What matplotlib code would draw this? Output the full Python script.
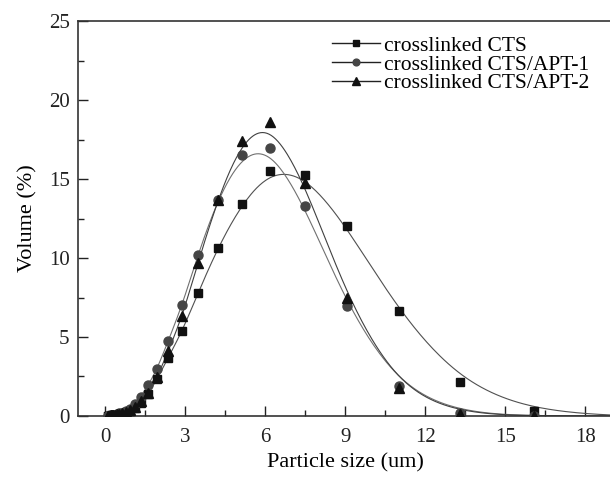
import numpy as np
import matplotlib
matplotlib.use("Agg")
import matplotlib.pyplot as plt
from matplotlib.lines import Line2D

plt.rcParams['font.family'] = ['Liberation Serif', 'DejaVu Serif']

# particle size bins (um)
size = [0.10, 0.12, 0.15, 0.18, 0.22, 0.26, 0.31, 0.37, 0.45, 0.54, 0.65,
        0.78, 0.93, 1.12, 1.34, 1.62, 1.96, 2.37, 2.90, 3.48, 4.22, 5.12,
        6.19, 7.50, 9.06, 11.0, 13.31, 16.09, 19.5]

# volume (%)
cts = [0.0, 0.01, 0.02, 0.03, 0.04, 0.05, 0.06, 0.07, 0.09, 0.12, 0.16,
       0.23, 0.34, 0.52, 0.85, 1.42, 2.35, 3.70, 5.39, 7.76, 10.62, 13.42,
       15.50, 15.27, 12.00, 6.62, 2.15, 0.30, 0.02]
apt1 = [0.0, 0.01, 0.02, 0.03, 0.04, 0.05, 0.07, 0.09, 0.12, 0.16, 0.22,
        0.31, 0.45, 0.74, 1.23, 1.95, 3.00, 4.76, 7.04, 10.20, 13.70, 16.50,
        16.95, 13.26, 6.98, 1.90, 0.20, 0.0, 0.0]
apt2 = [0.0, 0.01, 0.02, 0.03, 0.04, 0.05, 0.06, 0.08, 0.10, 0.13, 0.18,
        0.25, 0.36, 0.57, 0.95, 1.48, 2.47, 4.10, 6.33, 9.67, 13.70, 17.40,
        18.60, 14.74, 7.47, 1.78, 0.15, 0.0, 0.0]

labels = ['crosslinked CTS', 'crosslinked CTS/APT-1', 'crosslinked CTS/APT-2']


def bspline(xs, ys, n=30):
    # uniform cubic B-spline using the points as control points (clamped ends)
    px = np.r_[[xs[0]] * 2, xs, [xs[-1]] * 2]
    py = np.r_[[ys[0]] * 2, ys, [ys[-1]] * 2]
    t = np.linspace(0, 1, n)
    b0 = (1 - t) ** 3 / 6
    b1 = (3 * t ** 3 - 6 * t ** 2 + 4) / 6
    b2 = (-3 * t ** 3 + 3 * t ** 2 + 3 * t + 1) / 6
    b3 = t ** 3 / 6
    cx, cy = [], []
    for i in range(len(px) - 3):
        cx.append(b0 * px[i] + b1 * px[i + 1] + b2 * px[i + 2] + b3 * px[i + 3])
        cy.append(b0 * py[i] + b1 * py[i + 1] + b2 * py[i + 2] + b3 * py[i + 3])
    return np.concatenate(cx), np.concatenate(cy)


fig = plt.figure(figsize=(6.10, 4.84), dpi=100)
ax = fig.add_axes([0.1279, 0.1405, 0.8755, 0.8161])

styles = [('s', '#111111', 6.0), ('o', '#454545', 6.5), ('^', '#111111', 7.0)]
curve_cols = ['#505050', '#707070', '#404040']
for ys, (mk, col, ms), ccol in zip([cts, apt1, apt2], styles, curve_cols):
    bx, by = bspline(np.array(size), np.array(ys))
    ax.plot(bx, by, color=ccol, lw=0.8, zorder=2)
    ax.plot(size, ys, ls='none', marker=mk, color=col, ms=ms, zorder=3)

ax.set_xlim(-1.01, 19.0)
ax.set_ylim(0, 25)
ax.set_xticks([0, 3, 6, 9, 12, 15, 18])
ax.set_xticks(np.arange(1.5, 19, 3), minor=True)
ax.set_yticks([0, 5, 10, 15, 20, 25])
ax.set_yticks(np.arange(2.5, 25, 5), minor=True)
ax.tick_params(which='both', direction='in', labelsize=15, colors='#222222',
               width=1.0)
ax.tick_params(which='major', length=7)
ax.tick_params(axis='x', which='major', pad=9)
ax.tick_params(axis='y', which='major', pad=6)
ax.tick_params(which='minor', length=4)
for s in ax.spines.values():
    s.set_linewidth(1.2)
    s.set_color('#333333')

ax.set_xlabel('Particle size (um)', fontsize=16, labelpad=4)
ax.set_ylabel('Volume (%)', fontsize=16, labelpad=8)

handles = [Line2D([], [], color='#222222', lw=1.0, marker=m, ms=ms * 0.75,
                  markerfacecolor=c, markeredgecolor=c)
           for (m, c, ms) in styles]
ax.legend(handles, labels, loc='upper left', bbox_to_anchor=(0.52, 0.957),
          bbox_transform=fig.transFigure, frameon=False, fontsize=15.5,
          handlelength=2.2, handletextpad=0.2, labelspacing=-0.07,
          borderpad=0.2)

fig.savefig('out.png', dpi=100)
